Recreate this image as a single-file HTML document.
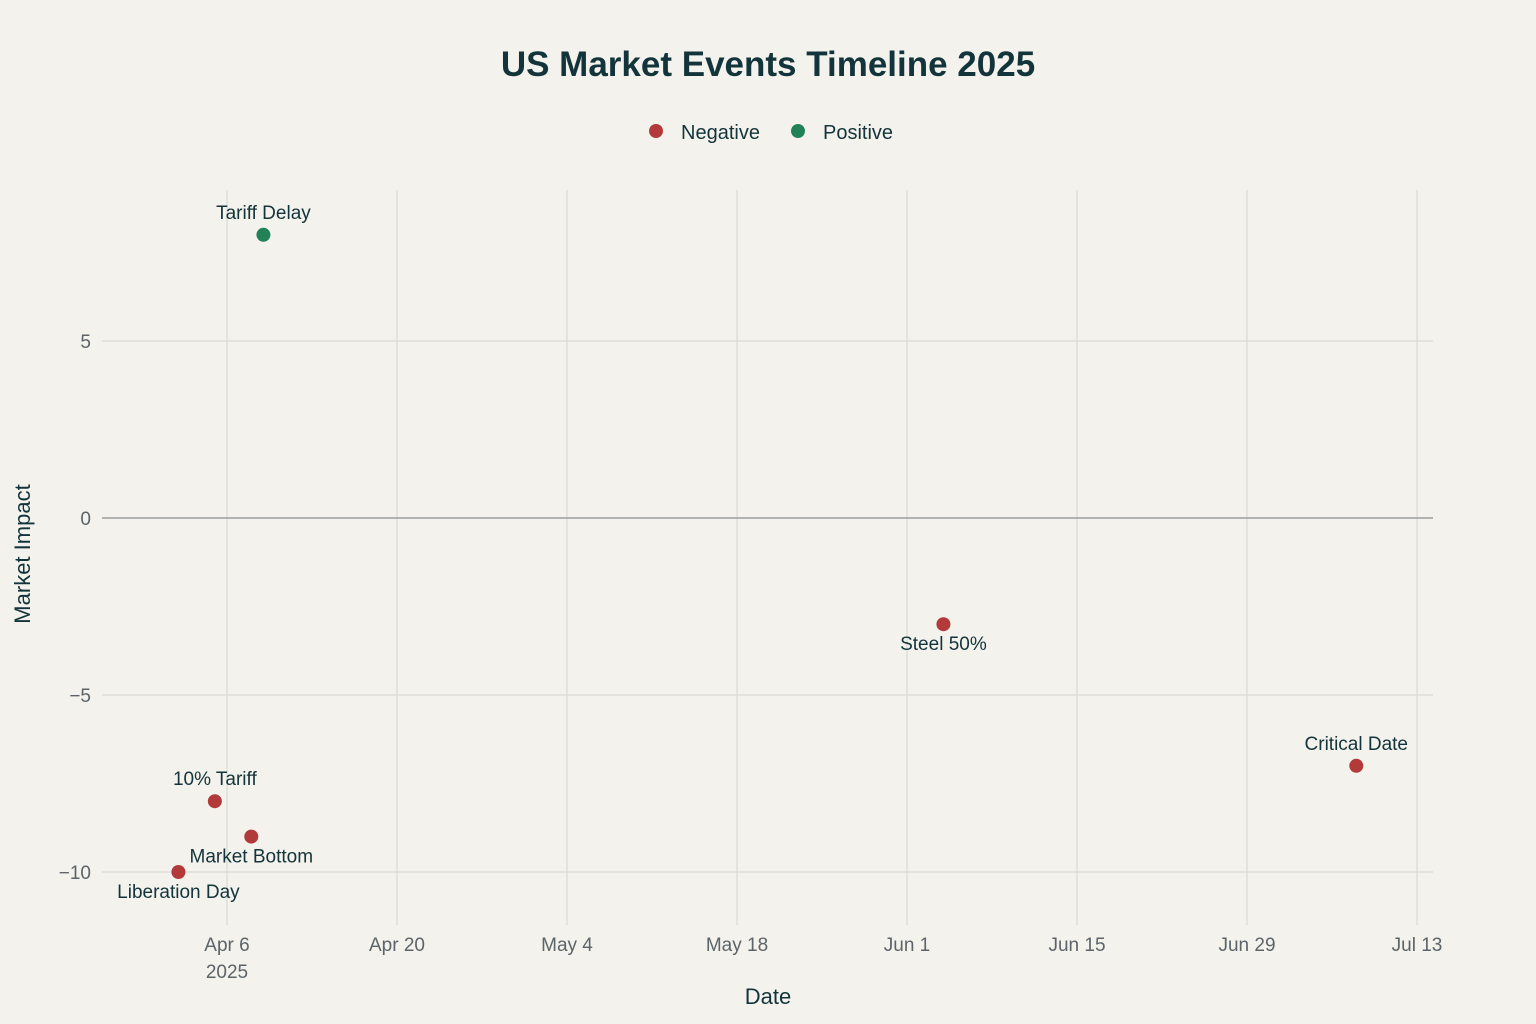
<!DOCTYPE html>
<html><head><meta charset="utf-8">
<style>
html,body{margin:0;padding:0;background:#f3f2ec;}
svg{display:block;font-family:"Liberation Sans",sans-serif;}
</style></head>
<body>
<svg id="chart" width="1536" height="1024" xmlns="http://www.w3.org/2000/svg">
<rect width="1536" height="1024" fill="#f3f2ec"/>
<text x="768" y="76" text-anchor="middle" font-size="35" font-weight="bold" fill="#13343b">US Market Events Timeline 2025</text>
<g>
<g><circle cx="656" cy="131" r="7" fill="#b33a3a"/><text x="681" y="139" font-size="20" fill="#13343b">Negative</text></g>
<g><circle cx="798" cy="131" r="7" fill="#218257"/><text x="823" y="139" font-size="20" fill="#13343b">Positive</text></g>
</g>
<g id="grid"></g>
<g id="axes"></g>
<g id="marks"></g>
<text x="768" y="1004" text-anchor="middle" font-size="22" fill="#13343b">Date</text>
<text transform="translate(30,554) rotate(-90)" text-anchor="middle" font-size="22" fill="#13343b">Market Impact</text>
</svg>
<script>
const eventNames = ["Liberation Day","10% Tariff","Market Bottom","Tariff Delay","Steel 50%","Critical Date"];
const eventDates = ["2025-04-02","2025-04-05","2025-04-08","2025-04-09","2025-06-04","2025-07-08"];
const eventImpact = [-10,-8,-9,8,-3,-7];
const eventType = ["Negative","Negative","Negative","Positive","Negative","Negative"];
const xTickDates = ["2025-04-06","2025-04-20","2025-05-04","2025-05-18","2025-06-01","2025-06-15","2025-06-29","2025-07-13"];
const xTickLabels = ["Apr 6","Apr 20","May 4","May 18","Jun 1","Jun 15","Jun 29","Jul 13"];
const yTicks = [-10,-5,0,5];
const yTickLabels = ["−10","−5","0","5"];

const NS="http://www.w3.org/2000/svg";
const L=102,R=1433,T=190,B=925;
const day0=Date.parse("2025-04-06"), x0=227, pxPerDay=170/14;
function xs(d){return x0+(Date.parse(d)-day0)/86400000*pxPerDay;}
function ys(v){return 518-v*(177/5);}
function mk(tag,attrs,parent){const e=document.createElementNS(NS,tag);for(const k in attrs)e.setAttribute(k,attrs[k]);parent.appendChild(e);return e;}
const grid=document.getElementById('grid'),axes=document.getElementById('axes'),marks=document.getElementById('marks');
xTickDates.forEach((d,i)=>{
  const x=xs(d);
  const g=mk('line',{x1:x,x2:x,y1:T,y2:B,stroke:"#d6d6d2","stroke-width":1},grid);
  
  
  const t=mk('text',{x:x,y:951,"text-anchor":"middle","font-size":19,fill:"#5c6469"},axes);
  t.textContent=xTickLabels[i];
  
  
});
const yr=mk('text',{x:xs(xTickDates[0]),y:978,"text-anchor":"middle","font-size":19,fill:"#5c6469"},axes);
yr.textContent="2025";


yTicks.forEach((v,i)=>{
  const y=ys(v);
  const g=mk('line',{x1:L,x2:R,y1:y,y2:y,stroke:v===0?"#9a9e9c":"#d6d6d2","stroke-width":v===0?1.5:1},grid);
  
  
  const t=mk('text',{x:91,y:y+7,"text-anchor":"end","font-size":19,fill:"#5c6469"},axes);
  t.textContent=yTickLabels[i];
  
  
});
const labelPos={"Liberation Day":"below","10% Tariff":"above","Market Bottom":"below","Tariff Delay":"above","Steel 50%":"below","Critical Date":"above"};
eventNames.forEach((n,i)=>{
  const x=xs(eventDates[i]),y=ys(eventImpact[i]);
  const c=mk('circle',{cx:x,cy:y,r:7,fill:eventType[i]==="Positive"?"#218257":"#b33a3a"},marks);
  
  
  const ly=labelPos[n]==="above"?y-16:y+26;
  const t=mk('text',{x:x,y:ly,"text-anchor":"middle","font-size":19,fill:"#13343b"},marks);
  t.textContent=n;
  
  
});
</script>
</body></html>
